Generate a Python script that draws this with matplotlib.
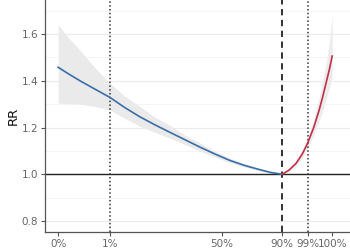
import numpy as np
import matplotlib.pyplot as plt

# temperature-like x axis, percentile labels at tick positions
tick_pos = [-10, -2.4, 13.9, 22.7, 26.4, 30.0]
tick_labels = ["0%", "1%", "50%", "90%", "99%", "100%"]

# below the minimum-risk point (cold side)
cold_x = [-10, -8.5, -6.8, -4.6, -2.44, -0.3, 1.93, 4.1, 6.29, 8.5, 10.65, 12.8, 15.0, 17.2, 19.4, 21.0, 22.7]
cold_rr = [1.458, 1.430, 1.400, 1.364, 1.329, 1.286, 1.246, 1.212, 1.180, 1.148, 1.117, 1.088, 1.060, 1.038, 1.020, 1.008, 1.0]
cold_lo = [1.305, 1.303, 1.300, 1.290, 1.275, 1.240, 1.205, 1.180, 1.155, 1.128, 1.100, 1.075, 1.050, 1.032, 1.015, 1.005, 1.0]
cold_hi = [1.640, 1.585, 1.530, 1.455, 1.390, 1.335, 1.290, 1.245, 1.210, 1.168, 1.135, 1.100, 1.070, 1.045, 1.025, 1.011, 1.0]

# above the minimum-risk point (hot side)
hot_x = [22.7, 23.7, 24.7, 25.6, 26.4, 27.3, 28.1, 28.6, 29.1, 29.6, 30.0]
hot_rr = [1.0, 1.018, 1.046, 1.085, 1.132, 1.200, 1.275, 1.330, 1.390, 1.450, 1.506]
hot_lo = [1.0, 1.012, 1.035, 1.068, 1.110, 1.168, 1.230, 1.270, 1.320, 1.370, 1.420]
hot_hi = [1.0, 1.024, 1.055, 1.100, 1.155, 1.235, 1.330, 1.400, 1.470, 1.570, 1.680]

fig = plt.figure(figsize=(3.5, 2.5), dpi=100)
ax = fig.add_axes([0.129, 0.072, 0.871, 0.928])

for v in [0.8, 1.0, 1.2, 1.4, 1.6]:
    ax.axhline(v, color="#ebebeb", lw=0.8, zorder=0)
for v in [0.9, 1.1, 1.3, 1.5, 1.7]:
    ax.axhline(v, color="#f3f3f3", lw=0.6, zorder=0)

ax.fill_between(cold_x, cold_lo, cold_hi, color="#eaeaea", lw=0, zorder=1)
ax.fill_between(hot_x, hot_lo, hot_hi, color="#ececec", lw=0, zorder=1)

ax.axhline(1.0, color="#222222", lw=1.0, zorder=2)
ax.axvline(tick_pos[1], color="#333333", lw=1.1, ls=(0, (1, 1.5)), zorder=2)
ax.axvline(tick_pos[4], color="#333333", lw=1.1, ls=(0, (1, 1.5)), zorder=2)
ax.axvline(tick_pos[3], color="#222222", lw=1.3, ls=(0, (3.5, 2.5)), zorder=2)

ax.plot(cold_x, cold_rr, color="#3a6ea8", lw=1.2, zorder=3)
ax.plot(hot_x, hot_rr, color="#c0304a", lw=1.2, zorder=3)

ax.set_xlim(-11.9, 32.6)
ax.set_ylim(0.753, 1.746)
ax.set_xticks(tick_pos)
ax.set_xticklabels(tick_labels)
ax.set_yticks([0.8, 1.0, 1.2, 1.4, 1.6])
ax.set_yticklabels(["0.8", "1.0", "1.2", "1.4", "1.6"])
ax.tick_params(colors="#555555", labelcolor="#666666", labelsize=7.5, length=3, width=0.8, pad=2)
ax.set_ylabel("RR", fontsize=9.5, color="#111111", labelpad=1)

for s in ["top", "right"]:
    ax.spines[s].set_visible(False)
for s in ["left", "bottom"]:
    ax.spines[s].set_color("#555555")
    ax.spines[s].set_linewidth(0.9)

fig.savefig("out.png", dpi=100)
